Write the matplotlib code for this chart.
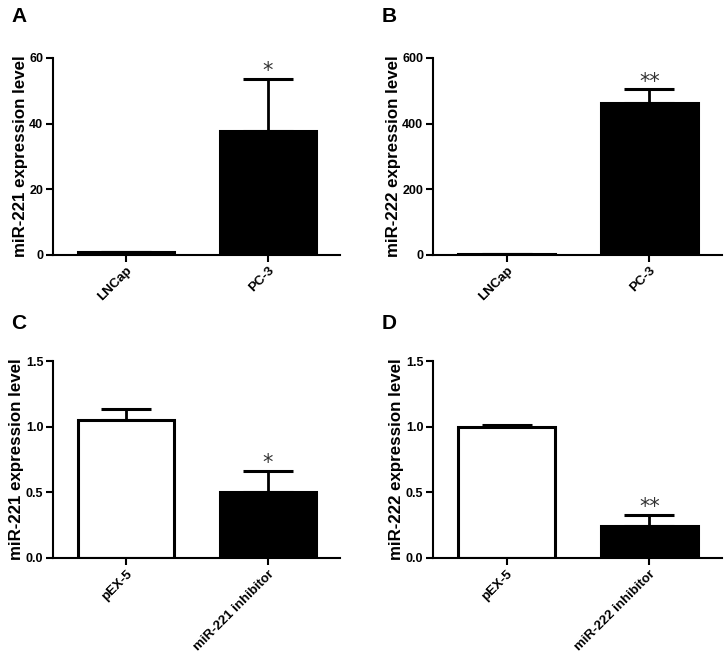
import matplotlib
matplotlib.use("Agg")
import matplotlib.pyplot as plt

plt.rcParams['font.family'] = ['Liberation Sans', 'DejaVu Sans']

# panel data
panels = ["A", "B", "C", "D"]
groups_ab = ["LNCap", "PC-3"]
groups_c = ["pEX-5", "miR-221 inhibitor"]
groups_d = ["pEX-5", "miR-222 inhibitor"]

mean_a = [1.0, 37.8]
err_a = [0.0, 15.8]
mean_b = [3.0, 463]
err_b = [0.0, 42]
mean_c = [1.05, 0.50]
err_c = [0.085, 0.165]
mean_d = [1.0, 0.245]
err_d = [0.015, 0.085]

stars_a = ["", "*"]
stars_b = ["", "**"]
stars_c = ["", "*"]
stars_d = ["", "**"]

ylabels = ["miR-221 expression level", "miR-222 expression level",
           "miR-221 expression level", "miR-222 expression level"]
yticks_ab = [[0, 20, 40, 60], [0, 200, 400, 600]]
yticks_cd = [0.0, 0.5, 1.0, 1.5]

W, H = 727, 668
fig = plt.figure(figsize=(W / 100, H / 100), dpi=100)

# axes boxes in pixels: left, right, top, bottom
boxes = [(53, 340, 58, 255), (433, 722, 58, 255),
         (53, 340, 361, 558), (433, 722, 361, 558)]
label_pos = [(11, 16), (382, 16), (11, 324), (382, 324)]

data = [
    (groups_ab, mean_a, err_a, stars_a, ['black', 'black'], yticks_ab[0], "%d"),
    (groups_ab, mean_b, err_b, stars_b, ['black', 'black'], yticks_ab[1], "%d"),
    (groups_c, mean_c, err_c, stars_c, ['white', 'black'], yticks_cd, "%.1f"),
    (groups_d, mean_d, err_d, stars_d, ['white', 'black'], yticks_cd, "%.1f"),
]

for i, (groups, means, errs, stars, colors, yt, fmt) in enumerate(data):
    l, r, t, b = boxes[i]
    ax = fig.add_axes([l / W, 1 - b / H, (r - l) / W, (b - t) / H])
    x = list(range(len(groups)))
    ax.bar(x, means, width=0.68, color=colors, edgecolor='black',
           linewidth=2.2, zorder=2)
    ax.errorbar(x, means, yerr=[[0] * len(errs), errs], fmt='none',
                ecolor='black', elinewidth=2.0, capsize=18, capthick=2.2,
                zorder=1)
    ymax = yt[-1]
    for xi, m, e, s in zip(x, means, errs, stars):
        if s:
            ax.text(xi, m + e + ymax * 0.008, s, ha='center', va='baseline',
                    fontsize=15, color='#333333', family='DejaVu Sans')
    ax.set_xlim(-0.514, 1.507)
    ax.set_ylim(0, ymax)
    ax.set_yticks(yt)
    ax.set_yticklabels([fmt % v for v in yt], fontsize=9, fontweight='bold')
    ax.set_xticks(x)
    ax.set_xticklabels(groups, rotation=45, ha='right', rotation_mode='anchor',
                       fontsize=9.5, fontweight='bold')
    ax.spines['top'].set_visible(False)
    ax.spines['right'].set_visible(False)
    ax.spines['left'].set_linewidth(1.5)
    ax.spines['bottom'].set_linewidth(1.5)
    ax.tick_params(axis='both', width=1.5, length=5, pad=2)
    ax.set_ylabel(ylabels[i], fontsize=12.2, fontweight='bold', labelpad=1)
    fig.text(label_pos[i][0] / W, 1 - label_pos[i][1] / H, panels[i],
             fontsize=15, fontweight='bold', va='center', ha='left')

fig.savefig("out.png", dpi=100)
